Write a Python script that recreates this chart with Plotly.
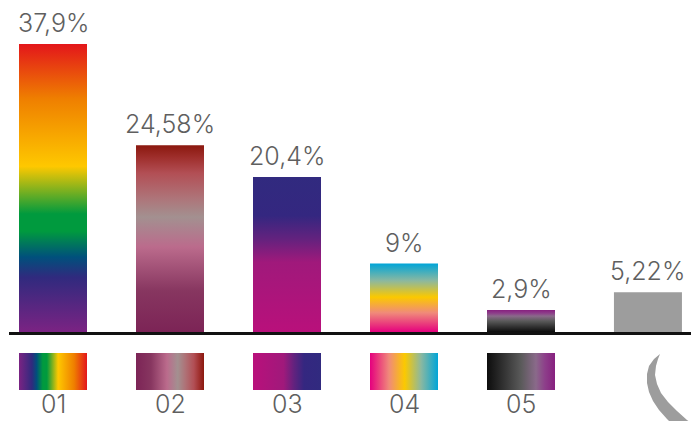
import plotly.graph_objects as go

# ---- data -------------------------------------------------------------
group_labels = ["01", "02", "03", "04", "05", ""]
shares = [37.9, 24.58, 20.4, 9, 2.9, 5.22]

# gradient stops for each group, from the bottom (0) to the top (1) of a bar
gradients = [
    [[0.0, "#7b2383"], [0.19, "#302a7e"], [0.26, "#00507c"], [0.35, "#009a3e"],
     [0.41, "#009a3e"], [0.575, "#fec800"], [0.81, "#ef7f00"], [1.0, "#e3161b"]],
    [[0.0, "#7c2456"], [0.22, "#873660"], [0.455, "#bb6b8c"], [0.615, "#a39090"],
     [0.72, "#ae7378"], [0.85, "#b24f55"], [0.93, "#a0302e"], [1.0, "#8b180e"]],
    [[0.0, "#b9107b"], [0.45, "#a0197b"], [0.6, "#63227e"], [0.75, "#342780"],
     [1.0, "#312a7f"]],
    [[0.0, "#e5007e"], [0.28, "#f08a7a"], [0.51, "#fbc900"], [0.75, "#8bb8a0"],
     [1.0, "#00a5d8"]],
    [[0.0, "#0d0d0d"], [0.25, "#333333"], [0.5, "#5a5a5a"], [0.72, "#8a6a8a"],
     [0.85, "#8d3f8a"], [1.0, "#87207f"]],
    None,
]
plain_color = "#9d9d9d"

# ---- layout geometry --------------------------------------------------
W, H = 691, 421
SLOT_PX = 117          # distance between neighbouring bars
FIRST_PX = 53          # centre of the first bar
BASE_PX = 332          # baseline position
UNIT_PX = 7.6          # pixels per percentage point
slot_pos = [0, 1, 2, 3, 4, 5.085]
bar_w = 68 / SLOT_PX


def px_x(p):
    return (p - FIRST_PX) / SLOT_PX


def px_y(p):
    return (BASE_PX - p) / UNIT_PX


text_color = "#5f5f5f"
label_font = dict(family="Inter, Lato, sans-serif", size=25, color=text_color, weight=300)

fig = go.Figure()

for pos, val, grad in zip(slot_pos, shares, gradients):
    x0, x1 = pos - bar_w / 2, pos + bar_w / 2
    bar = dict(
        x=[x0, x1, x1, x0, x0],
        y=[0, 0, val, val, 0],
        mode="lines",
        line=dict(width=0),
        fill="toself",
        hoverinfo="skip",
        showlegend=False,
    )
    if grad is None:
        bar["fillcolor"] = plain_color
    else:
        bar["fillgradient"] = dict(type="vertical", colorscale=grad, start=0, stop=val)
    fig.add_trace(go.Scatter(**bar))

    fig.add_annotation(
        x=pos, y=val, text=f"{val:g}%".replace(".", ","),
        showarrow=False, yanchor="bottom", yshift=4,
        font=label_font,
    )

# swatch row under the baseline
sw_top, sw_bot = px_y(353), px_y(390)
for pos, grad, name in zip(slot_pos, gradients, group_labels):
    if grad is None:
        continue
    x0, x1 = pos - bar_w / 2, pos + bar_w / 2
    fig.add_trace(go.Scatter(
        x=[x0, x1, x1, x0, x0],
        y=[sw_bot, sw_bot, sw_top, sw_top, sw_bot],
        mode="lines", line=dict(width=0), fill="toself",
        fillgradient=dict(type="horizontal", colorscale=grad, start=x0, stop=x1),
        hoverinfo="skip", showlegend=False,
    ))
    fig.add_annotation(
        x=pos, y=px_y(421), text=name, showarrow=False, yanchor="bottom",
        font=label_font,
    )

# baseline
fig.add_shape(type="line", x0=px_x(9), x1=px_x(700), y0=px_y(333.5), y1=px_y(333.5),
              line=dict(color="#111111", width=3), layer="above")

# crescent mark under the last bar
outer = [(660, 354), (654, 359), (649, 366), (647, 374), (647, 383), (649, 392),
         (653, 401), (659, 410), (667, 419), (676, 428)]
inner = [(698, 428), (687, 420), (677, 411), (668, 402), (661, 393), (657, 384),
         (655, 375), (656, 366), (658, 359), (660, 354)]
pts = outer + inner
path = "M " + " L ".join(f"{px_x(a):.4f},{px_y(b):.4f}" for a, b in pts) + " Z"
fig.add_shape(type="path", path=path, fillcolor=plain_color, line=dict(width=0))

fig.update_layout(
    width=W, height=H,
    margin=dict(l=0, r=0, t=0, b=0),
    paper_bgcolor="white", plot_bgcolor="white",
    xaxis=dict(range=[px_x(0), px_x(W)], visible=False, fixedrange=True),
    yaxis=dict(range=[px_y(H), px_y(0)], visible=False, fixedrange=True),
    showlegend=False,
)

fig.write_html("out.html")
